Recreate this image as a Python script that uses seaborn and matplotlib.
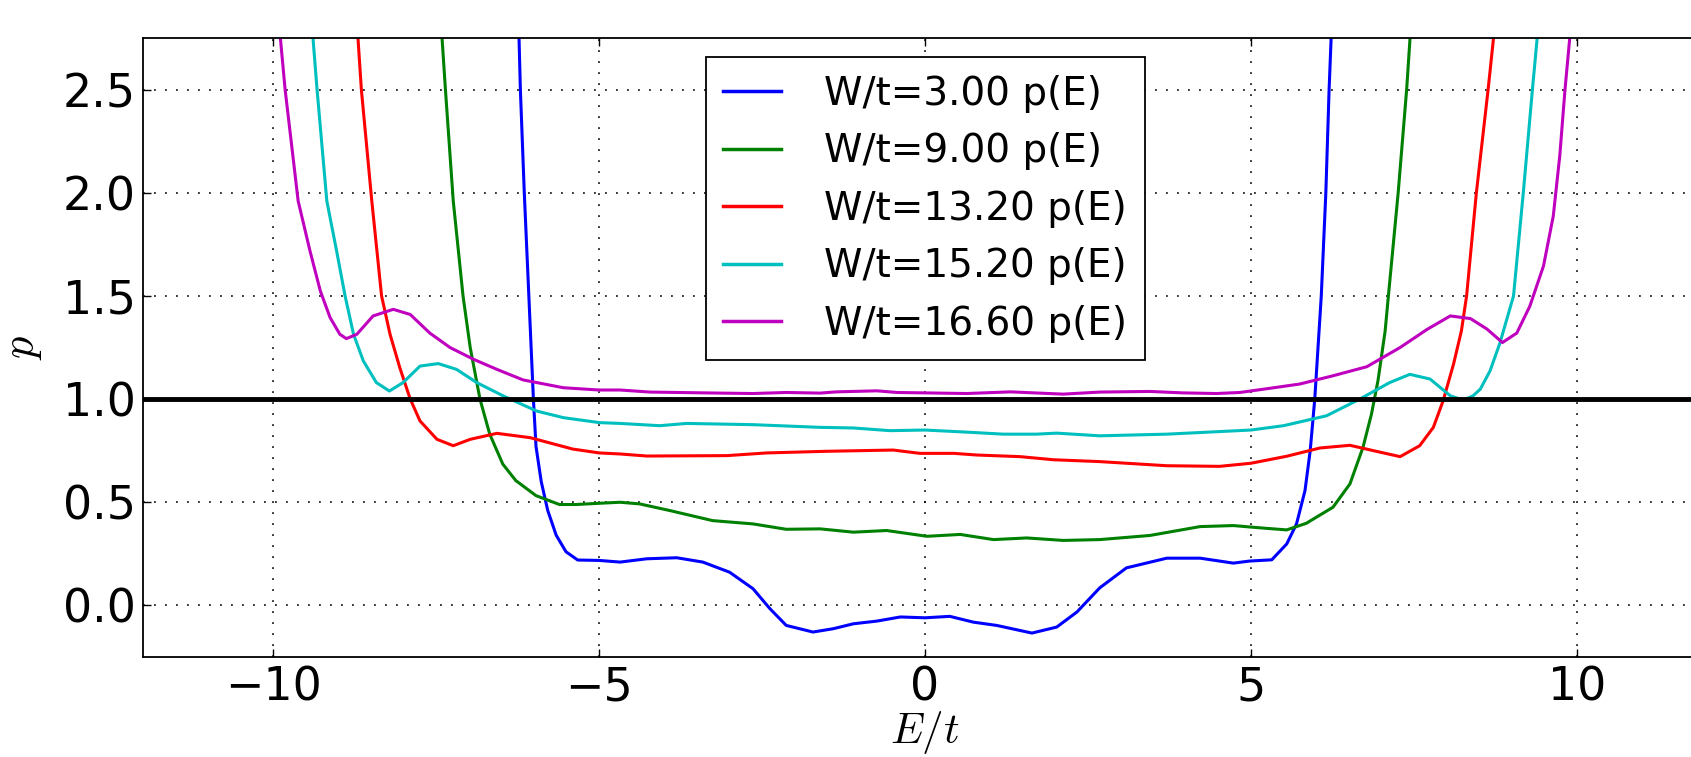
import numpy as np
import pandas as pd
import matplotlib
matplotlib.use("Agg")
import matplotlib.pyplot as plt
from matplotlib.ticker import FormatStrFormatter
import seaborn as sns

# values
labels = ["W/t=3.00 p(E)", "W/t=9.00 p(E)", "W/t=13.20 p(E)",
          "W/t=15.20 p(E)", "W/t=16.60 p(E)"]
colors = ["#0000ff", "#008000", "#ff0000", "#00bfbf", "#bf00bf"]

e_w3 = [-6.27, -6.23, -6.21, -6.15, -6.08, -6.01, -5.97, -5.89, -5.79, -5.66,
        -5.51, -5.33, -5.0, -4.68, -4.27, -3.81, -3.41, -3.0, -2.64, -2.38,
        -2.13, -1.72, -1.41, -1.1, -0.74, -0.38, 0.0, 0.38, 0.74, 1.1,
        1.64, 2.02, 2.33, 2.68, 3.09, 3.71, 4.22, 4.73, 4.98, 5.32,
        5.55, 5.70, 5.83, 5.91, 5.98, 6.08, 6.15, 6.20, 6.23, 6.27]
p_w3 = [3.2, 2.74, 2.5, 2.0, 1.5, 1.0, 0.77, 0.6, 0.46, 0.34,
        0.26, 0.22, 0.218, 0.21, 0.226, 0.231, 0.21, 0.161, 0.081, -0.016,
        -0.097, -0.129, -0.113, -0.089, -0.076, -0.056, -0.06, -0.053, -0.081, -0.097,
        -0.134, -0.105, -0.032, 0.085, 0.182, 0.229, 0.229, 0.205, 0.215, 0.221,
        0.298, 0.395, 0.556, 0.75, 1.0, 1.5, 2.0, 2.5, 2.74, 3.2]

e_w9 = [-7.48, -7.41, -7.36, -7.24, -7.09, -6.98, -6.83, -6.68, -6.48, -6.28,
        -5.97, -5.61, -5.36, -5.0, -4.68, -4.38, -3.92, -3.26, -2.64, -2.13,
        -1.61, -1.10, -0.59, 0.03, 0.54, 1.05, 1.56, 2.12, 2.68, 3.45,
        4.22, 4.73, 5.14, 5.55, 5.85, 6.26, 6.52, 6.72, 6.85, 6.95,
        7.06, 7.11, 7.26, 7.39, 7.44, 7.50]
p_w9 = [3.2, 2.74, 2.5, 1.96, 1.5, 1.25, 1.0, 0.83, 0.685, 0.605,
        0.532, 0.489, 0.489, 0.495, 0.50, 0.492, 0.46, 0.411, 0.395, 0.369,
        0.371, 0.355, 0.363, 0.335, 0.344, 0.319, 0.327, 0.315, 0.319, 0.339,
        0.382, 0.387, 0.376, 0.366, 0.398, 0.476, 0.589, 0.766, 0.927, 1.089,
        1.33, 1.5, 2.0, 2.5, 2.74, 3.2]

e_w132 = [-8.78, -8.70, -8.65, -8.49, -8.34, -8.21, -8.06, -7.90, -7.75, -7.49,
          -7.24, -6.98, -6.57, -6.06, -5.41, -5.0, -4.68, -4.27, -3.04, -2.43,
          -1.51, -0.49, -0.08, 0.44, 0.79, 1.46, 1.97, 2.68, 3.71, 4.52,
          5.0, 5.55, 6.06, 6.52, 6.88, 7.29, 7.59, 7.80, 7.95, 8.11,
          8.23, 8.31, 8.46, 8.64, 8.72, 8.80]
p_w132 = [3.2, 2.74, 2.5, 1.96, 1.5, 1.314, 1.152, 1.0, 0.894, 0.805,
          0.774, 0.805, 0.834, 0.813, 0.758, 0.739, 0.734, 0.724, 0.726, 0.739,
          0.747, 0.753, 0.737, 0.737, 0.729, 0.721, 0.706, 0.697, 0.677, 0.674,
          0.689, 0.723, 0.763, 0.776, 0.75, 0.721, 0.774, 0.863, 0.992, 1.17,
          1.33, 1.5, 2.0, 2.5, 2.74, 3.2]

e_w152 = [-9.47, -9.39, -9.33, -9.18, -9.03, -8.90, -8.77, -8.62, -8.42, -8.22,
          -8.01, -7.75, -7.47, -7.19, -6.88, -6.47, -5.96, -5.55, -5.0, -4.68,
          -4.07, -3.66, -2.64, -1.61, -1.10, -0.54, 0.0, 0.69, 1.20, 1.71,
          2.02, 2.68, 3.71, 5.0, 5.5, 6.16, 6.67, 7.13, 7.44, 7.75,
          8.06, 8.26, 8.41, 8.52, 8.67, 8.82, 9.03, 9.18, 9.32, 9.39,
          9.47]
p_w152 = [3.2, 2.74, 2.5, 1.96, 1.718, 1.5, 1.314, 1.185, 1.08, 1.039,
          1.08, 1.16, 1.172, 1.144, 1.08, 1.015, 0.942, 0.91, 0.886, 0.882,
          0.871, 0.882, 0.876, 0.863, 0.86, 0.847, 0.85, 0.839, 0.83, 0.83,
          0.835, 0.822, 0.83, 0.85, 0.871, 0.919, 1.0, 1.08, 1.12, 1.097,
          1.016, 0.995, 1.016, 1.048, 1.137, 1.27, 1.5, 2.0, 2.5, 2.74,
          3.2]

e_w166 = [-9.97, -9.89, -9.82, -9.62, -9.44, -9.28, -9.13, -8.98, -8.88, -8.72,
          -8.47, -8.16, -7.90, -7.60, -7.29, -6.93, -6.57, -6.17, -5.55, -5.0,
          -4.68, -4.22, -3.15, -2.64, -2.13, -1.61, -1.36, -0.74, -0.43, 0.64,
          1.31, 2.12, 2.68, 3.45, 3.96, 4.47, 4.83, 5.24, 5.75, 6.26,
          6.78, 7.29, 7.70, 8.06, 8.37, 8.62, 8.86, 9.08, 9.28, 9.49,
          9.64, 9.74, 9.82, 9.89, 9.97]
p_w166 = [3.2, 2.74, 2.5, 1.96, 1.72, 1.524, 1.395, 1.314, 1.293, 1.314,
          1.403, 1.435, 1.41, 1.32, 1.25, 1.193, 1.144, 1.093, 1.055, 1.044,
          1.044, 1.034, 1.029, 1.027, 1.032, 1.029, 1.035, 1.04, 1.032, 1.027,
          1.035, 1.024, 1.034, 1.037, 1.03, 1.027, 1.032, 1.05, 1.073, 1.113,
          1.157, 1.25, 1.337, 1.403, 1.39, 1.34, 1.274, 1.32, 1.45, 1.645,
          1.887, 2.18, 2.5, 2.74, 3.2]

x_ticks = [-10, -5, 0, 5, 10]
y_ticks = [0.0, 0.5, 1.0, 1.5, 2.0, 2.5]

series = [(e_w3, p_w3), (e_w9, p_w9), (e_w132, p_w132), (e_w152, p_w152), (e_w166, p_w166)]
frames = []
for lab, (e, p) in zip(labels, series):
    frames.append(pd.DataFrame({"E": e, "p": p, "series": lab}))
df = pd.concat(frames, ignore_index=True)

plt.rcParams["font.family"] = ["DejaVu Sans"]
plt.rcParams["mathtext.fontset"] = "cm"

fig = plt.figure(figsize=(16.91, 7.57), dpi=100)
ax = fig.add_axes([0.0846, 0.1321, 0.9249, 0.8177])

sns.lineplot(data=df, x="E", y="p", hue="series", hue_order=labels,
             palette=colors, estimator=None, sort=False, linewidth=2.2, ax=ax)
ax.axhline(1.0, color="k", linewidth=3.5, zorder=3)

ax.set_xlim(-12, 12)
ax.set_ylim(-0.25, 2.75)
ax.set_xticks(x_ticks)
ax.set_yticks(y_ticks)
ax.yaxis.set_major_formatter(FormatStrFormatter("%.1f"))
ax.grid(True, color="k", linestyle=(0, (1.2, 6)), linewidth=1.1)
ax.tick_params(direction="in", length=6, width=1, top=True, right=True,
               labelsize=33)
ax.tick_params(axis="y", pad=5)
ax.tick_params(axis="x", pad=6)
for s in ax.spines.values():
    s.set_linewidth(1.3)

ax.set_xlabel("$E/t$", fontsize=31, labelpad=-1)
ax.set_ylabel("$p$", fontsize=32, labelpad=14)

handles, labs = ax.get_legend_handles_labels()
leg = ax.legend(handles, labs, loc="upper center", fontsize=28, fancybox=False,
                framealpha=1, edgecolor="k", handlelength=1.5, handletextpad=1.1,
                labelspacing=0.5, borderpad=0.45)
leg.get_frame().set_linewidth(1.3)
for ln in leg.get_lines():
    ln.set_linewidth(2.5)

fig.savefig("out.png", dpi=100)
plt.close(fig)
